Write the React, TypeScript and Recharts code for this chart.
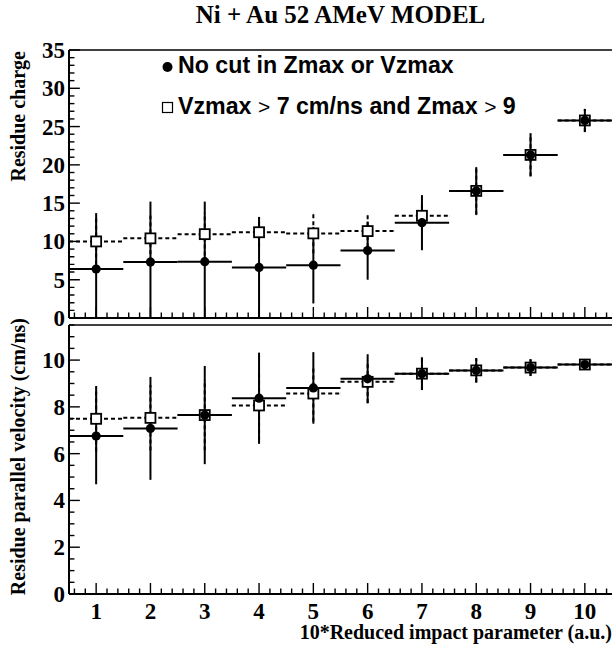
import { ScatterChart, Scatter, XAxis, YAxis, ErrorBar, ReferenceLine } from "recharts";

// bins of 10*reduced impact parameter
const bins = [1, 2, 3, 4, 5, 6, 7, 8, 9, 10];
const binHalfWidth = [0.5, 0.5, 0.5, 0.5, 0.5, 0.5, 0.5, 0.5, 0.5, 0.5];

// residue charge
const zAll = [6.4, 7.3, 7.35, 6.6, 6.9, 8.8, 12.45, 16.6, 21.3, 25.8];
const zAllErr = [7.3, 7.9, 7.85, 6.6, 5.0, 3.8, 3.6, 3.1, 2.8, 1.5];
const zCut = [10.0, 10.4, 10.95, 11.2, 11.05, 11.35, 13.35, 16.6, 21.3, 25.8];
const zCutErr = [3.0, 3.0, 2.8, 1.9, 2.6, 2.1, 1.8, 3.1, 2.8, 1.5];

// residue parallel velocity (cm/ns)
const vAll = [6.75, 7.08, 7.65, 8.37, 8.81, 9.2, 9.42, 9.56, 9.68, 9.81];
const vAllErr = [2.06, 2.2, 2.1, 1.95, 1.53, 1.05, 0.7, 0.53, 0.36, 0.12];
const vCut = [7.49, 7.53, 7.65, 8.06, 8.57, 9.07, 9.42, 9.56, 9.68, 9.81];
const vCutErr = [1.4, 1.4, 1.5, 1.5, 1.2, 0.9, 0.7, 0.5, 0.35, 0.12];

const xDomain: [number, number] = [0.5, 10.5];
const zDomain: [number, number] = [0, 35];
const vDomain: [number, number] = [0, 11.5];

const xLabels = [1, 2, 3, 4, 5, 6, 7, 8, 9, 10];
const zLabels = [0, 5, 10, 15, 20, 25, 30, 35];
const vLabels = [0, 2, 4, 6, 8, 10];

// small ticks
const xMinor: number[] = [];
for (let i = 3; i <= 52; i++) xMinor.push(i / 5);
const zMinor: number[] = [];
for (let i = 0; i <= 35; i++) zMinor.push(i);
const vMinor: number[] = [];
for (let i = 0; i <= 23; i++) vMinor.push(i / 2);

const toPoints = (ys: number[], errs: number[]) =>
  bins.map((x, i) => ({ x, y: ys[i], ex: binHalfWidth[i], ey: errs[i] }));

const serif = "'Liberation Serif', 'Times New Roman', serif";
const sans = "'Liberation Sans', Arial, sans-serif";
const tickFont = { fontFamily: serif, fontWeight: 700, fontSize: 23, fill: "#000" };

const isIn = (list: number[], v: number) => list.some((t) => Math.abs(t - v) < 1e-6);

const leftLabel = (p: any) => (
  <text x={p.x - 4} y={p.y} dy={8} textAnchor="end" {...tickFont}>
    {p.payload.value}
  </text>
);
const bottomLabel = (p: any) => (
  <text x={p.x} y={p.y + 25} textAnchor="middle" {...tickFont}>
    {p.payload.value}
  </text>
);

const noShape = () => <g />;
const dot = (p: any) => <circle cx={p.cx} cy={p.cy} r={4.6} fill="#000" />;
const box = (p: any) => (
  <rect x={p.cx - 5} y={p.cy - 5} width={10} height={10} fill="#fff" stroke="#000" strokeWidth={1.8} />
);

// error bars of both selections first, then open squares, then filled dots on top
function series(all: any[], cut: any[]) {
  return [
    <Scatter key="ea" data={all} shape={noShape} isAnimationActive={false}>
      <ErrorBar dataKey="ex" direction="x" width={0} stroke="#000" strokeWidth={2} />
      <ErrorBar dataKey="ey" direction="y" width={0} stroke="#000" strokeWidth={2} />
    </Scatter>,
    <Scatter key="ec" data={cut} shape={noShape} isAnimationActive={false}>
      <ErrorBar dataKey="ex" direction="x" width={0} stroke="#000" strokeWidth={2} strokeDasharray="4 3" />
      <ErrorBar dataKey="ey" direction="y" width={0} stroke="#000" strokeWidth={2} strokeDasharray="4 3" />
    </Scatter>,
    <Scatter key="sc" data={cut} shape={box} isAnimationActive={false} />,
    <Scatter key="sa" data={all} shape={dot} isAnimationActive={false} />,
  ];
}

function Panel(props: {
  top: number;
  height: number;
  marginTop: number;
  xHeight: number;
  yDomain: [number, number];
  yLabels: number[];
  yMinor: number[];
  yTickLen: number;
  showX: boolean;
  clip?: string;
  all: any[];
  cut: any[];
}) {
  // inward tick marks drawn as one-sided bars from the frame (lengths in axis units)
  const xMarks = xMinor.map((t) => ({
    x: t,
    y: props.yDomain[0],
    len: [0, isIn(xLabels, t) ? props.yTickLen : props.yTickLen / 2],
  }));
  const yMarks = props.yMinor.map((t) => ({
    x: xDomain[0],
    y: t,
    len: [0, isIn(props.yLabels, t) ? 0.2 : 0.1],
  }));
  return (
    <div style={{ position: "absolute", left: 0, top: props.top, clipPath: props.clip }}>
      <ScatterChart width={612} height={props.height} margin={{ top: props.marginTop, right: 0, bottom: 0, left: 0 }}>
        <XAxis
          dataKey="x"
          type="number"
          domain={xDomain}
          ticks={xLabels}
          interval={0}
          height={props.xHeight}
          axisLine={{ stroke: "#000", strokeWidth: 2 }}
          tickLine={false}
          tickSize={0}
          tickMargin={0}
          tick={props.showX ? bottomLabel : false}
          allowDataOverflow
        />
        <YAxis
          dataKey="y"
          type="number"
          domain={props.yDomain}
          ticks={props.yLabels}
          interval={0}
          width={69}
          axisLine={{ stroke: "#000", strokeWidth: 2 }}
          tickLine={false}
          tickSize={0}
          tickMargin={0}
          tick={leftLabel}
          allowDataOverflow
        />
        <ReferenceLine y={props.yDomain[1]} stroke="#000" strokeWidth={1.5} />
        <Scatter data={xMarks} shape={noShape} isAnimationActive={false}>
          <ErrorBar dataKey="len" direction="y" width={0} stroke="#000" strokeWidth={1.4} />
        </Scatter>
        <Scatter data={yMarks} shape={noShape} isAnimationActive={false}>
          <ErrorBar dataKey="len" direction="x" width={0} stroke="#000" strokeWidth={1.4} />
        </Scatter>
        {series(props.all, props.cut)}
      </ScatterChart>
    </div>
  );
}

export default function App() {
  const zAllPts = toPoints(zAll, zAllErr);
  const zCutPts = toPoints(zCut, zCutErr);
  const vAllPts = toPoints(vAll, vAllErr);
  const vCutPts = toPoints(vCut, vCutErr);

  return (
    <div style={{ position: "absolute", left: 0, top: 0, width: 612, height: 650, overflow: "hidden", background: "#fff" }}>
      <svg width={612} height={650} style={{ position: "absolute", left: 0, top: 0 }}>
        <text x={340.5} y={23} textAnchor="middle" fontFamily={serif} fontWeight={700} fontSize={25}>
          Ni + Au 52 AMeV MODEL
        </text>

        <circle cx={167.5} cy={67} r={5} fill="#000" />
        <text x={178} y={73} fontFamily={sans} fontWeight={700} fontSize={23.2}>
          No cut in Zmax or Vzmax
        </text>
        <rect x={162.5} y={102.5} width={10} height={10} fill="#fff" stroke="#000" strokeWidth={1.2} />
        <text x={178} y={114} fontFamily={sans} fontWeight={700} fontSize={23.2}>
          Vzmax <tspan fontWeight={400} fontSize={21}>&gt;</tspan> 7 cm/ns and Zmax{" "}
          <tspan fontWeight={400} fontSize={21}>&gt;</tspan> 9
        </text>

        <text transform="translate(25,51) rotate(-90)" textAnchor="end" fontFamily={serif} fontWeight={700} fontSize={20}>
          Residue charge
        </text>
        <text transform="translate(25,318) rotate(-90)" textAnchor="end" fontFamily={serif} fontWeight={700} fontSize={20}>
          Residue parallel velocity (cm/ns)
        </text>
        <text x={612} y={639} textAnchor="end" fontFamily={serif} fontWeight={700} fontSize={20}>
          10*Reduced impact parameter (a.u.)
        </text>
      </svg>

      <Panel
        top={0}
        height={330}
        marginTop={50}
        xHeight={12}
        yDomain={zDomain}
        yLabels={zLabels}
        yMinor={zMinor}
        yTickLen={1.44}
        showX={false}
        clip="polygon(0 0, 612px 0, 612px 319px, 69px 319px, 69px 330px, 0 330px)"
        all={zAllPts}
        cut={zCutPts}
      />
      <Panel
        top={300}
        height={350}
        marginTop={25}
        xHeight={56}
        yDomain={vDomain}
        yLabels={vLabels}
        yMinor={vMinor}
        yTickLen={0.47}
        showX={true}
        all={vAllPts}
        cut={vCutPts}
      />
    </div>
  );
}
